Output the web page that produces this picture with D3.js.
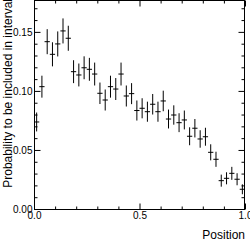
<!DOCTYPE html>
<html><head><meta charset="utf-8">
<script src="https://cdn.jsdelivr.net/npm/d3@7"></script>
<style>
html,body{margin:0;padding:0;background:#fff;}
svg{display:block;font-family:"Liberation Sans",Arial,Helvetica,sans-serif;}
</style></head>
<body>
<svg id="c" width="250" height="241"></svg>
<script>
// 40 bins over [0,1]
const binLow = d3.range(40).map(i => i / 40);
const binWidth = 0.025;
const values = [0.0737,0.1036,0.1417,0.1310,0.1398,0.1508,0.1446,0.1163,0.1135,0.1196,
                0.1183,0.1143,0.0980,0.0923,0.1036,0.1016,0.1143,0.0957,0.0977,0.0834,
                0.0853,0.0824,0.0887,0.0824,0.0915,0.0762,0.0796,0.0731,0.0754,0.0616,
                0.0684,0.0593,0.0612,0.0480,0.0421,0.0240,0.0260,0.0302,0.0252,0.0167];
const errors = [0.0080,0.0093,0.0106,0.0102,0.0106,0.0106,0.0106,0.0097,0.0097,0.0097,
                0.0097,0.0097,0.0091,0.0089,0.0093,0.0093,0.0097,0.0089,0.0089,0.0085,
                0.0085,0.0085,0.0087,0.0085,0.0087,0.0080,0.0082,0.0080,0.0080,0.0076,
                0.0078,0.0074,0.0076,0.0068,0.0064,0.0051,0.0051,0.0055,0.0051,0.0042];
const xMajorTicks = [0, 0.5, 1.0];
const xTickLabels = ["0.0", "0.5", "1.0"];
const yMajorTicks = [0, 0.05, 0.10, 0.15];
const yTickLabels = ["0.00", "0.05", "0.10", "0.15"];
const xTitle = "Position";
const yTitle = "Probability to be included in interval";

const L = 34, R = 245, T = 0, B = 209;
const svg = d3.select("#c");
const x = d3.scaleLinear().domain([0, 1]).range([L, R]);
const y = d3.scaleLinear().domain([0, 0.177]).range([B, T]);

const xMinor = d3.range(0, 1.0001, 0.1).filter(v => !xMajorTicks.some(m => Math.abs(m - v) < 1e-6));
const yMinor = d3.range(0, 0.1771, 0.01).filter(v => !yMajorTicks.some(m => Math.abs(m - v) < 1e-6));

// data
const g = svg.append("g").attr("stroke", "#000").attr("stroke-width", 1).attr("fill", "none");
binLow.forEach((lo, i) => {
  const cx = x(lo + binWidth / 2);
  const cy = y(values[i]);
  g.append("line").attr("x1", x(lo)).attr("x2", x(lo + binWidth)).attr("y1", cy).attr("y2", cy);
  g.append("line").attr("x1", cx).attr("x2", cx).attr("y1", y(values[i] - errors[i])).attr("y2", y(values[i] + errors[i]));
});

// frame
svg.append("rect").attr("x", L + 0.5).attr("y", T + 0.5).attr("width", R - L - 1).attr("height", B - T)
  .attr("fill", "none").attr("stroke", "#000").attr("stroke-width", 1);

function styleAxis(sel) {
  sel.select(".domain").remove();
  sel.selectAll("line").attr("stroke", "#000");
  sel.selectAll("text").attr("fill", "#000").attr("font-size", 10);
}
// bottom
svg.append("g").attr("transform", `translate(0,${B + 0.5})`)
  .call(d3.axisBottom(x).tickValues(xMajorTicks).tickSize(-6).tickPadding(2).tickFormat((d, i) => xTickLabels[i]))
  .call(styleAxis);
svg.append("g").attr("transform", `translate(0,${B + 0.5})`)
  .call(d3.axisBottom(x).tickValues(xMinor).tickSize(-3).tickFormat(""))
  .call(styleAxis);
// top
svg.append("g").attr("transform", `translate(0,${T + 0.5})`)
  .call(d3.axisTop(x).tickValues(xMajorTicks).tickSize(-6).tickFormat(""))
  .call(styleAxis);
svg.append("g").attr("transform", `translate(0,${T + 0.5})`)
  .call(d3.axisTop(x).tickValues(xMinor).tickSize(-3).tickFormat(""))
  .call(styleAxis);
// left
svg.append("g").attr("transform", `translate(${L + 0.5},0)`)
  .call(d3.axisLeft(y).tickValues(yMajorTicks).tickSize(-6).tickPadding(2).tickFormat((d, i) => yTickLabels[i]))
  .call(styleAxis);
svg.append("g").attr("transform", `translate(${L + 0.5},0)`)
  .call(d3.axisLeft(y).tickValues(yMinor).tickSize(-3).tickFormat(""))
  .call(styleAxis);
// right
svg.append("g").attr("transform", `translate(${R - 0.5},0)`)
  .call(d3.axisRight(y).tickValues(yMajorTicks).tickSize(-6).tickFormat(""))
  .call(styleAxis);
svg.append("g").attr("transform", `translate(${R - 0.5},0)`)
  .call(d3.axisRight(y).tickValues(yMinor).tickSize(-3).tickFormat(""))
  .call(styleAxis);

// titles
svg.append("text").attr("x", R).attr("y", 239).attr("text-anchor", "end")
  .attr("font-size", 12).attr("fill", "#000").text(xTitle);
svg.append("text").attr("transform", `translate(12,${T - 1}) rotate(-90)`).attr("text-anchor", "end")
  .attr("font-size", 12).attr("fill", "#000").text(yTitle);
</script>
</body></html>
